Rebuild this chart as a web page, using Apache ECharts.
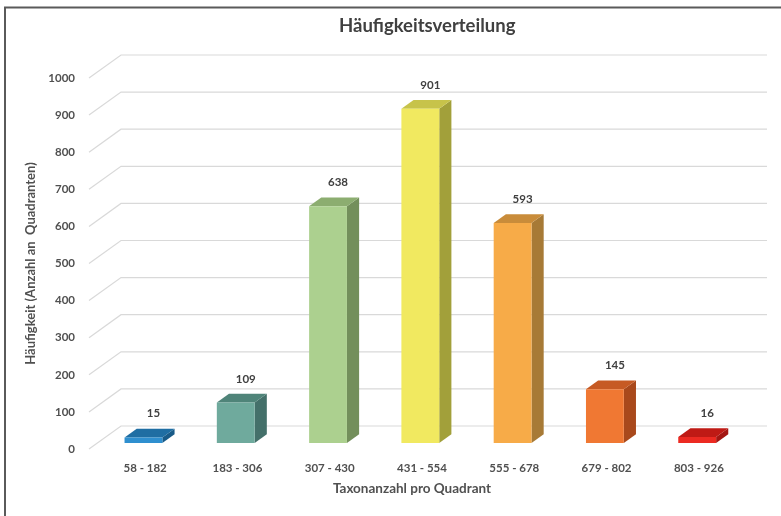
<!DOCTYPE html>
<html>
<head>
<meta charset="utf-8">
<script src="https://cdn.jsdelivr.net/npm/echarts@6/dist/echarts.min.js"></script>
<style>
  html, body { margin: 0; padding: 0; background: #fff; }
  #chart { width: 781px; height: 516px; }
</style>
</head>
<body>
<div id="chart"></div>
<script>
// Häufigkeitsverteilung der Taxonanzahl pro Quadrant
const categories = ['58 - 182', '183 - 306', '307 - 430', '431 - 554', '555 - 678', '679 - 802', '803 - 926'];
const counts = [15, 109, 638, 901, 593, 145, 16];
const yTicks = [0, 100, 200, 300, 400, 500, 600, 700, 800, 900, 1000];

// front / top / side shades for each column
const frontColors = ['#2f8fcf', '#6faa9d', '#acd08f', '#f1e960', '#f7ab48', '#f07833', '#ec2a22'];
const topColors   = ['#1f6ea3', '#4f8479', '#8cad70', '#c7c34a', '#c98c3a', '#c65a24', '#bf1a15'];
const sideColors  = ['#195b88', '#44706a', '#738f5b', '#a2a03a', '#a77a36', '#a9491c', '#a31612'];

// pseudo-3D depth of the plot box (back wall offset) in pixels
const DEPTH_X = 32, DEPTH_Y = 23;
// columns sit between z0 and z0 + zd (fractions of full depth)
const Z0 = 0.26, ZD = 0.38;
const BAR_RATIO = 0.41;

const FONT = 'Lato, "Open Sans", sans-serif';

const chart = echarts.init(document.getElementById('chart'));

function renderGrid(params, api) {
  const cs = params.coordSys;
  const y = api.coord([0, api.value(0)])[1];
  const x0 = cs.x;
  return {
    type: 'polyline',
    shape: { points: [[x0, y], [x0 + DEPTH_X, y - DEPTH_Y], [x0 + cs.width + DEPTH_X, y - DEPTH_Y]] },
    style: { stroke: '#d9d9d9', lineWidth: 1.2, fill: null },
    silent: true
  };
}

function renderBar(params, api) {
  const i = api.value(0);
  const v = api.value(1);
  const base = api.coord([i, 0]);
  const top = api.coord([i, v]);
  const band = api.size([1, 0])[0];
  const w = band * BAR_RATIO;
  const sx = Z0 * DEPTH_X, sy = Z0 * DEPTH_Y;
  const dx = ZD * DEPTH_X, dy = ZD * DEPTH_Y;
  const xl = base[0] - w / 2 + sx, xr = base[0] + w / 2 + sx;
  const yb = base[1] - sy, yt = top[1] - sy;
  return {
    type: 'group',
    children: [
      { type: 'polygon', shape: { points: [[xr, yb], [xr + dx, yb - dy], [xr + dx, yt - dy], [xr, yt]] },
        style: { fill: sideColors[i] } },
      { type: 'polygon', shape: { points: [[xl, yt], [xr, yt], [xr + dx, yt - dy], [xl + dx, yt - dy]] },
        style: { fill: topColors[i] } },
      { type: 'rect', shape: { x: xl, y: yt, width: w, height: yb - yt },
        style: { fill: frontColors[i] } },
      { type: 'text', x: base[0] + sx + 10, y: yt - dy - 15,
        style: { text: String(v), fill: '#404040', font: 'bold 11.5px ' + FONT, align: 'center', verticalAlign: 'middle' } }
    ]
  };
}

chart.setOption({
  animation: false,
  backgroundColor: '#ffffff',
  title: {
    text: 'Häufigkeitsverteilung',
    left: 334, top: 12,
    textStyle: { fontFamily: FONT, fontSize: 18.5, fontWeight: 'bold', color: '#404040' }
  },
  grid: { left: 89, right: 46, top: 78, bottom: 67 },
  xAxis: {
    type: 'category',
    data: categories,
    axisLine: { show: false },
    axisTick: { show: false },
    axisLabel: { margin: 13, padding: [0, 0, 0, 20], color: '#505050', fontFamily: FONT, fontSize: 11.5, fontWeight: 'bold', interval: 0 },
    name: 'Taxonanzahl pro Quadrant',
    nameLocation: 'middle',
    nameGap: 33,
    nameTextStyle: { color: '#505050', fontFamily: FONT, fontSize: 13.5, fontWeight: 'bold' }
  },
  yAxis: {
    type: 'value',
    min: 0, max: 1000, interval: 100,
    axisLine: { show: false },
    axisTick: { show: false },
    splitLine: { show: false },
    axisLabel: { margin: 14, color: '#505050', fontFamily: FONT, fontSize: 11.5, fontWeight: 'bold',
      formatter: v => String(v) },
    name: 'Häufigkeit (Anzahl an  Quadranten)',
    nameLocation: 'middle',
    nameGap: 40,
    nameRotate: 90,
    nameTextStyle: { color: '#505050', fontFamily: FONT, fontSize: 13, fontWeight: 'bold' }
  },
  graphic: [
    { type: 'polyline', shape: { points: [[5, 516], [5, 7.5], [781, 7.5]] },
      style: { stroke: '#5a5a5a', lineWidth: 2, fill: null }, silent: true }
  ],
  series: [
    { type: 'custom', renderItem: renderGrid, data: yTicks.map(t => [t]), z: 1, silent: true },
    { type: 'custom', renderItem: renderBar, data: counts.map((c, i) => [i, c]), z: 2 }
  ]
});
</script>
</body>
</html>
